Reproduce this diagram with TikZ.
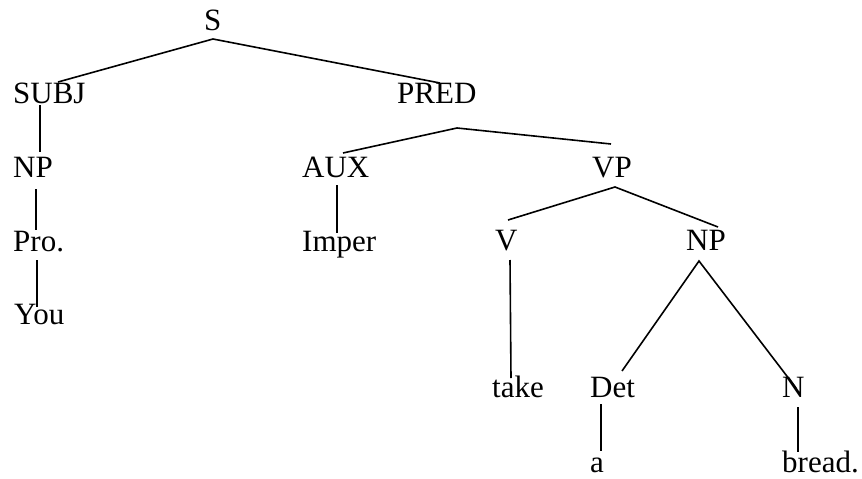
\documentclass[tikz,border=0pt]{standalone}
\usepackage{fontspec}
\setmainfont{Liberation Serif}
\begin{document}
\begin{tikzpicture}[x=1pt,y=-1pt,
  lbl/.style={anchor=base west,inner sep=0pt,font=\fontsize{31}{37}\selectfont},
  branch/.style={line width=1.6pt,line cap=butt}]
\useasboundingbox (0,0) rectangle (862,479);

% category labels and words
\node[lbl] (S)     at (204,30)  {S};
\node[lbl] (SUBJ)  at (13,103)  {SUBJ};
\node[lbl] (PRED)  at (397,103) {PRED};
\node[lbl] (NPa)   at (13,177)  {NP};
\node[lbl] (AUX)   at (302,177) {AUX};
\node[lbl] (VP)    at (592,177) {VP};
\node[lbl] (Pro)   at (13,251)  {Pro.};
\node[lbl] (Imper) at (302,251) {Imper};
\node[lbl] (V)     at (495,250) {V};
\node[lbl] (NPb)   at (686,250) {NP};
\node[lbl] (You)   at (14,324)  {You};
\node[lbl] (take)  at (492,397) {take};
\node[lbl] (Det)   at (590,397) {Det};
\node[lbl] (N)     at (782,397) {N};
\node[lbl] (a)     at (590,472) {a};
\node[lbl] (bread) at (782,472) {bread.};

% branch points and branch ends
\coordinate (sTop)     at (213,39);
\coordinate (subjEnd)  at (58,82);
\coordinate (predEnd)  at (440,83);
\coordinate (subjLow)  at (40,105);
\coordinate (npaTop)   at (40,152);
\coordinate (npaLow)   at (36,189);
\coordinate (proTop)   at (36,230);
\coordinate (proLow)   at (37,260);
\coordinate (youTop)   at (37,307);
\coordinate (predTop)  at (457,128);
\coordinate (auxEnd)   at (343,153);
\coordinate (vpEnd)    at (611,144);
\coordinate (auxLow)   at (337,185);
\coordinate (imperTop) at (337,233);
\coordinate (vpTop)    at (615,187);
\coordinate (vEnd)     at (508,220);
\coordinate (npbEnd)   at (718,227);
\coordinate (vLow)     at (510,260);
\coordinate (takeTop)  at (511,378);
\coordinate (npbTop)   at (699,261);
\coordinate (detEnd)   at (622,371);
\coordinate (nEnd)     at (796,388);
\coordinate (detLow)   at (601,404);
\coordinate (aTop)     at (601,451);
\coordinate (nLow)     at (798,407);
\coordinate (breadTop) at (798,452);

% tree branches
\draw[branch] (subjEnd) -- (sTop) -- (predEnd);
\draw[branch] (subjLow) -- (npaTop);
\draw[branch] (npaLow) -- (proTop);
\draw[branch] (proLow) -- (youTop);
\draw[branch] (auxEnd) -- (predTop) -- (vpEnd);
\draw[branch] (auxLow) -- (imperTop);
\draw[branch] (vEnd) -- (vpTop) -- (npbEnd);
\draw[branch] (vLow) -- (takeTop);
\draw[branch] (detEnd) -- (npbTop) -- (nEnd);
\draw[branch] (detLow) -- (aTop);
\draw[branch] (nLow) -- (breadTop);
\end{tikzpicture}
\end{document}
